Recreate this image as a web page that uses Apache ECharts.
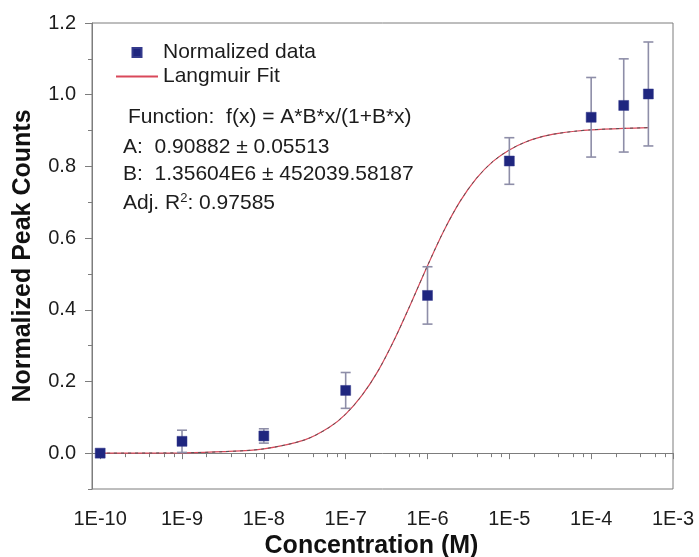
<!DOCTYPE html>
<html>
<head>
<meta charset="utf-8">
<script src="https://cdn.jsdelivr.net/npm/echarts@6/dist/echarts.min.js"></script>
<style>
  html, body { margin: 0; padding: 0; background: #ffffff; }
  #chart { width: 699px; height: 557px; }
</style>
</head>
<body>
<div id="chart"></div>
<script>
// Measured points: concentration (M), normalized peak counts, error (±)
const concentrations = [1e-10, 1e-9, 1e-8, 1e-7, 1e-6, 1e-5, 1e-4, 2.5e-4, 5e-4];
const peakCounts     = [0.000, 0.033, 0.048, 0.175, 0.440, 0.815, 0.937, 0.970, 1.002];
const peakErrors     = [0.000, 0.031, 0.020, 0.050, 0.080, 0.065, 0.111, 0.130, 0.145];

// Langmuir fit curve samples
const fitConcentrations = [1e-10, 1e-9, 3.16e-9, 1e-8, 3.16e-8, 6.31e-8, 1e-7, 1.58e-7, 2.51e-7,
  3.98e-7, 6.31e-7, 1e-6, 1.58e-6, 2.51e-6, 3.98e-6, 6.31e-6, 1e-5, 1.58e-5, 2.51e-5,
  3.98e-5, 6.31e-5, 1e-4, 2.5e-4, 5e-4];
const fitValues = [0.000, 0.001, 0.004, 0.012, 0.037, 0.072, 0.109, 0.161, 0.231,
  0.319, 0.419, 0.523, 0.620, 0.703, 0.767, 0.814, 0.846, 0.868, 0.883,
  0.892, 0.898, 0.902, 0.906, 0.908];

// Axis ticks
const xDecadeExponents = [-10, -9, -8, -7, -6, -5, -4, -3];
const xMinorMultipliers = [2, 4, 6, 8];
const yTickValues = [0, 0.2, 0.4, 0.6, 0.8, 1.0, 1.2];
const yMinorValues = [-0.1, 0.1, 0.3, 0.5, 0.7, 0.9, 1.1];

// Fit report text
const fitReport = [
  'Function:  f(x) = A*B*x/(1+B*x)',
  'A:  0.90882 \u00b1 0.05513',
  'B:  1.35604E6 \u00b1 452039.58187',
  'Adj. R{sup|2}: 0.97585'
];

const FONT = '"Liberation Sans", Arial, Helvetica, sans-serif';
const AXIS_GRAY = '#7d7d7d';
const TEXT = '#1c1c1c';

const lg = v => Math.log10(v);
const xMinorTicks = [-10.1];
xDecadeExponents.slice(0, -1).forEach(e => xMinorMultipliers.forEach(m => xMinorTicks.push(e + Math.log10(m))));

const pointData = concentrations.map((c, i) => [lg(c), peakCounts[i]]);
const errorData = concentrations.map((c, i) => [lg(c), peakCounts[i] - peakErrors[i], peakCounts[i] + peakErrors[i]])
  .filter((d, i) => peakErrors[i] > 0);
const fitData = fitConcentrations.map((c, i) => [lg(c), fitValues[i]]);

const chart = echarts.init(document.getElementById('chart'), null, { renderer: 'canvas' });

chart.setOption({
  animation: false,
  backgroundColor: '#ffffff',
  grid: {
    left: 92, right: 26, top: 23, bottom: 68,
    outerBoundsMode: 'none', containLabel: false,
    show: true, borderColor: AXIS_GRAY, borderWidth: 1, backgroundColor: 'transparent'
  },
  xAxis: [{
    type: 'value', position: 'bottom', min: -10.1, max: -3,
    name: 'Concentration (M)', nameLocation: 'middle', nameGap: 42,
    nameTextStyle: { fontFamily: FONT, fontSize: 25, fontWeight: 'bold', color: '#111', padding: [0, 22, 0, 0] },
    axisLine: { show: true, lineStyle: { color: AXIS_GRAY, width: 1 } },
    axisTick: { show: true, customValues: xDecadeExponents, length: 6, lineStyle: { color: AXIS_GRAY } },
    axisLabel: {
      customValues: xDecadeExponents, margin: 20,
      fontFamily: FONT, fontSize: 20, color: TEXT,
      formatter: v => '1E' + Math.round(v)
    },
    splitLine: { show: false }
  }, {
    type: 'value', position: 'bottom', min: -10.1, max: -3,
    axisLine: { show: false },
    axisTick: { show: true, customValues: xMinorTicks, length: 4, lineStyle: { color: AXIS_GRAY } },
    axisLabel: { show: false },
    splitLine: { show: false }
  }],
  yAxis: [{
    type: 'value', position: 'left', min: -0.1, max: 1.2,
    name: 'Normalized Peak Counts', nameLocation: 'middle', nameGap: 56,
    nameTextStyle: { fontFamily: FONT, fontSize: 25, fontWeight: 'bold', color: '#111' },
    axisLine: { show: true, lineStyle: { color: AXIS_GRAY, width: 1 } },
    axisTick: { show: true, customValues: yTickValues, length: 7, lineStyle: { color: AXIS_GRAY } },
    axisLabel: {
      customValues: yTickValues, margin: 16,
      fontFamily: FONT, fontSize: 20, color: TEXT,
      formatter: v => v.toFixed(1)
    },
    splitLine: { show: false }
  }, {
    type: 'value', position: 'left', min: -0.1, max: 1.2,
    axisLine: { show: false },
    axisTick: { show: true, customValues: yMinorValues, length: 4, lineStyle: { color: AXIS_GRAY } },
    axisLabel: { show: false },
    splitLine: { show: false }
  }],
  legend: {
    orient: 'vertical', left: 115, top: 42, padding: 0,
    itemWidth: 42, itemHeight: 9, itemGap: 3,
    symbolKeepAspect: true,
    textStyle: { fontFamily: FONT, fontSize: 21, color: TEXT, lineHeight: 20 },
    data: [
      { name: 'Normalized data', icon: 'path://M0,0H10V10H0Z' },
      { name: 'Langmuir Fit', itemStyle: { opacity: 0 } }
    ]
  },
  graphic: fitReport.map((t, i) => ({
    type: 'text',
    x: i === 0 ? 128 : 123,
    y: [117, 147, 174, 203][i],
    silent: true,
    style: {
      text: t,
      font: '21px ' + FONT,
      fill: TEXT,
      verticalAlign: 'middle',
      rich: { sup: { fontFamily: FONT, fontSize: 13, verticalAlign: 'top', lineHeight: 22, fill: TEXT } }
    }
  })),
  series: [
    {
      name: 'Langmuir Fit', type: 'line', data: fitData,
      symbol: 'none', showSymbol: false, smooth: 0.3, z: 2,
      lineStyle: { color: '#d9485a', width: 1.2 },
      itemStyle: { color: '#d9485a' }
    },
    {
      name: 'fit-dash', type: 'line', data: fitData,
      symbol: 'none', showSymbol: false, smooth: 0.3, z: 3, silent: true,
      lineStyle: { color: '#555555', width: 1, type: [3, 4] }
    },
    {
      name: 'error', type: 'custom', data: errorData, z: 4, silent: true,
      renderItem: (params, api) => {
        const x = api.value(0);
        const lo = api.coord([x, api.value(1)]);
        const hi = api.coord([x, api.value(2)]);
        const cap = 5;
        const st = { stroke: '#8e8ea8', lineWidth: 1.6 };
        return {
          type: 'group',
          children: [
            { type: 'line', shape: { x1: lo[0], y1: lo[1], x2: hi[0], y2: hi[1] }, style: st },
            { type: 'line', shape: { x1: lo[0] - cap, y1: lo[1], x2: lo[0] + cap, y2: lo[1] }, style: st },
            { type: 'line', shape: { x1: hi[0] - cap, y1: hi[1], x2: hi[0] + cap, y2: hi[1] }, style: st }
          ]
        };
      }
    },
    {
      name: 'Normalized data', type: 'scatter', data: pointData, z: 5,
      symbol: 'rect', symbolSize: 10,
      itemStyle: { color: '#1f267f', opacity: 1, borderColor: '#343a8c', borderWidth: 0.5 }
    }
  ]
});
</script>
</body>
</html>
